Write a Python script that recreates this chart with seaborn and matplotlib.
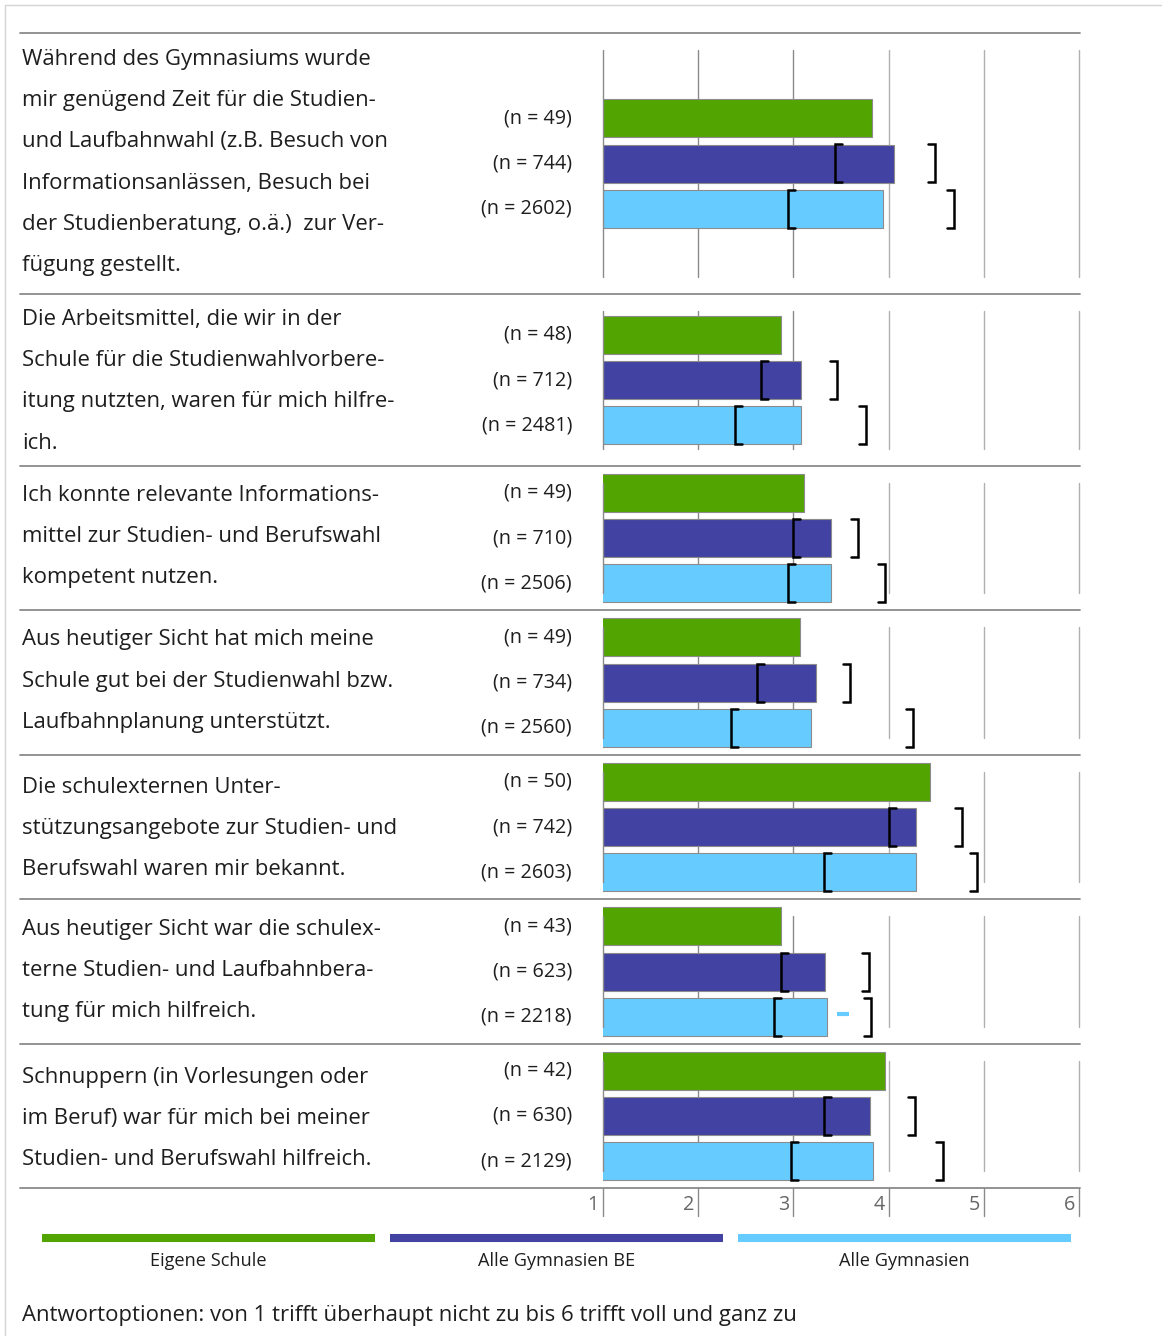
import matplotlib
matplotlib.use("Agg")
import matplotlib.pyplot as plt
from matplotlib.lines import Line2D
import matplotlib.transforms as mtransforms
import pandas as pd
import seaborn as sns

# ---------------------------------------------------------------- data
fragen = [
    ["Während des Gymnasiums wurde",
     "mir genügend Zeit für die Studien-",
     "und Laufbahnwahl (z.B. Besuch von",
     "Informationsanlässen, Besuch bei",
     "der Studienberatung, o.ä.)  zur Ver-",
     "fügung gestellt."],
    ["Die Arbeitsmittel, die wir in der",
     "Schule für die Studienwahlvorbere-",
     "itung nutzten, waren für mich hilfre-",
     "ich."],
    ["Ich konnte relevante Informations-",
     "mittel zur Studien- und Berufswahl",
     "kompetent nutzen."],
    ["Aus heutiger Sicht hat mich meine",
     "Schule gut bei der Studienwahl bzw.",
     "Laufbahnplanung unterstützt."],
    ["Die schulexternen Unter-",
     "stützungsangebote zur Studien- und",
     "Berufswahl waren mir bekannt."],
    ["Aus heutiger Sicht war die schulex-",
     "terne Studien- und Laufbahnbera-",
     "tung für mich hilfreich."],
    ["Schnuppern (in Vorlesungen oder",
     "im Beruf) war für mich bei meiner",
     "Studien- und Berufswahl hilfreich."],
]

gruppen = ["Eigene Schule", "Alle Gymnasien BE", "Alle Gymnasien"]
farben = ["#52a500", "#4242a3", "#66ccff"]

# Mittelwerte je Frage
mw_eigene = [3.83, 2.87, 3.11, 3.07, 4.43, 2.87, 3.96]
mw_be = [4.06, 3.08, 3.39, 3.24, 4.29, 3.33, 3.80]
mw_alle = [3.94, 3.08, 3.40, 3.18, 4.29, 3.35, 3.84]

# Anzahl Antworten
n_eigene = [49, 48, 49, 49, 50, 43, 42]
n_be = [744, 712, 710, 734, 742, 623, 630]
n_alle = [2602, 2481, 2506, 2560, 2603, 2218, 2129]

# Streubereich: untere und obere Grenze
be_unten = [3.44, 2.66, 3.00, 2.62, 4.00, 2.87, 3.32]
be_oben = [4.49, 3.46, 3.68, 3.59, 4.77, 3.79, 4.28]
alle_unten = [2.94, 2.39, 2.94, 2.34, 3.32, 2.80, 2.97]
alle_oben = [4.69, 3.76, 3.96, 4.26, 4.93, 3.82, 4.57]

# Zusatzmarke bei Frage 6 (Alle Gymnasien)
marke_frage = 5
marke_wert = 3.52

skala = [1, 2, 3, 4, 5, 6]

legende_titel = gruppen
fusszeile = "Antwortoptionen: von 1 trifft überhaupt nicht zu bis 6 trifft voll und ganz zu"

# ---------------------------------------------------------------- style
sns.set_theme(style="white")
plt.rcParams["font.family"] = ["Open Sans", "DejaVu Sans"]
TEXT = "#1e1e1e"
FS_TEXT = 15.9
FS_N = 14.2
FS_LEG = 13.1

W, H = 1162, 1336
fig = plt.figure(figsize=(W / 100, H / 100), dpi=100)
fig.patch.set_facecolor("white")


def fx(px):
    return px / W


def fy(py):
    return 1 - py / H


# page frame
fig.add_artist(Line2D([fx(5), fx(5)], [fy(5), fy(H)], color="#d4d4d4", lw=1.0))
fig.add_artist(Line2D([fx(5), fx(W)], [fy(5), fy(5)], color="#d4d4d4", lw=1.0))

trenner = [33, 294, 466, 610, 755, 899, 1044, 1188]
erste_zeile = [59, 319, 495, 640, 787, 929, 1077]
zeilenabstand = 41.4
X0, X1 = 603, 1079
PITCH = 45.4
BAR_H = 38 / PITCH

for t in trenner:
    fig.add_artist(Line2D([fx(20), fx(1080)], [fy(t), fy(t)],
                          color="#8a8a8a", lw=1.3))

for g in range(len(fragen)):
    top, bot = trenner[g], trenner[g + 1]
    hpx = bot - top

    # question text
    for k, zeile in enumerate(fragen[g]):
        fig.text(fx(22), fy(erste_zeile[g] + k * zeilenabstand), zeile,
                 ha="left", va="center", fontsize=FS_TEXT, color=TEXT)

    ax = fig.add_axes([fx(X0), fy(bot), fx(X1) - fx(X0), hpx / H])
    df = pd.DataFrame({
        "gruppe": gruppen,
        "wert": [mw_eigene[g], mw_be[g], mw_alle[g]],
    })
    sns.barplot(data=df, x="wert", y="gruppe", hue="gruppe", order=gruppen,
                hue_order=gruppen, palette=farben, orient="h", width=BAR_H,
                dodge=False, legend=False, edgecolor="#8c8c8c", linewidth=0.8,
                saturation=1, ax=ax, zorder=2)

    R = hpx / PITCH
    ax.set_ylim(1 + R / 2, 1 - R / 2)
    ax.set_xlim(1, 6)
    ax.axis("off")

    inset = 17 / hpx
    for v in skala:
        farbe = "#8a8a8a" if v <= 3 else "#b0b0b0"
        ax.axvline(v, ymin=inset, ymax=1 - inset, color=farbe, lw=1.0,
                   zorder=3 if v == 1 else 1, clip_on=False)

    # range brackets
    tick = 7 / ((X1 - X0) / 5)
    for i, (lo, hi) in ((1, (be_unten[g], be_oben[g])),
                        (2, (alle_unten[g], alle_oben[g]))):
        y0, y1 = i - BAR_H / 2, i + BAR_H / 2
        ax.plot([lo + tick, lo, lo, lo + tick], [y0, y0, y1, y1],
                color="black", lw=1.8, solid_joinstyle="miter", zorder=4)
        ax.plot([hi - tick, hi, hi, hi - tick], [y0, y0, y1, y1],
                color="black", lw=1.8, solid_joinstyle="miter", zorder=4)

    if g == marke_frage:
        ax.plot([marke_wert - 0.06, marke_wert + 0.06], [1.93, 1.93],
                color=farben[2], lw=3.0, solid_capstyle="butt", zorder=4)

    # n labels
    trans = ax.get_yaxis_transform()
    for i, n in enumerate([n_eigene[g], n_be[g], n_alle[g]]):
        ax.text(-(X0 - 572) / (X1 - X0), i, f"(n = {n})", transform=trans,
                ha="right", va="center", fontsize=FS_N, color=TEXT)

# scale below the last block
ax_s = fig.add_axes([fx(X0), fy(1216), fx(X1) - fx(X0), 28 / H])
ax_s.set_xlim(1, 6)
ax_s.set_ylim(0, 1)
ax_s.axis("off")
for v in skala:
    ax_s.axvline(v, 0, 1, color="#8a8a8a", lw=1.0, clip_on=False)
    off = mtransforms.offset_copy(ax_s.transData, fig=fig, x=-3, y=0, units="points")
    ax_s.text(v, 0.38, str(v), transform=off, ha="right", va="center",
              fontsize=FS_N, color="#666666")

# legend
legende_x = [(42, 375), (390, 723), (738, 1071)]
for (a, b), farbe, titel in zip(legende_x, farben, legende_titel):
    fig.add_artist(Line2D([fx(a), fx(b)], [fy(1238), fy(1238)], color=farbe,
                          lw=5.8, solid_capstyle="butt"))
    fig.text(fx((a + b) / 2), fy(1261), titel, ha="center", va="center",
             fontsize=FS_LEG, color=TEXT)

fig.text(fx(22), fy(1316), fusszeile, ha="left", va="center",
         fontsize=FS_TEXT, color=TEXT)

fig.savefig("out.png", dpi=100, facecolor="white")
